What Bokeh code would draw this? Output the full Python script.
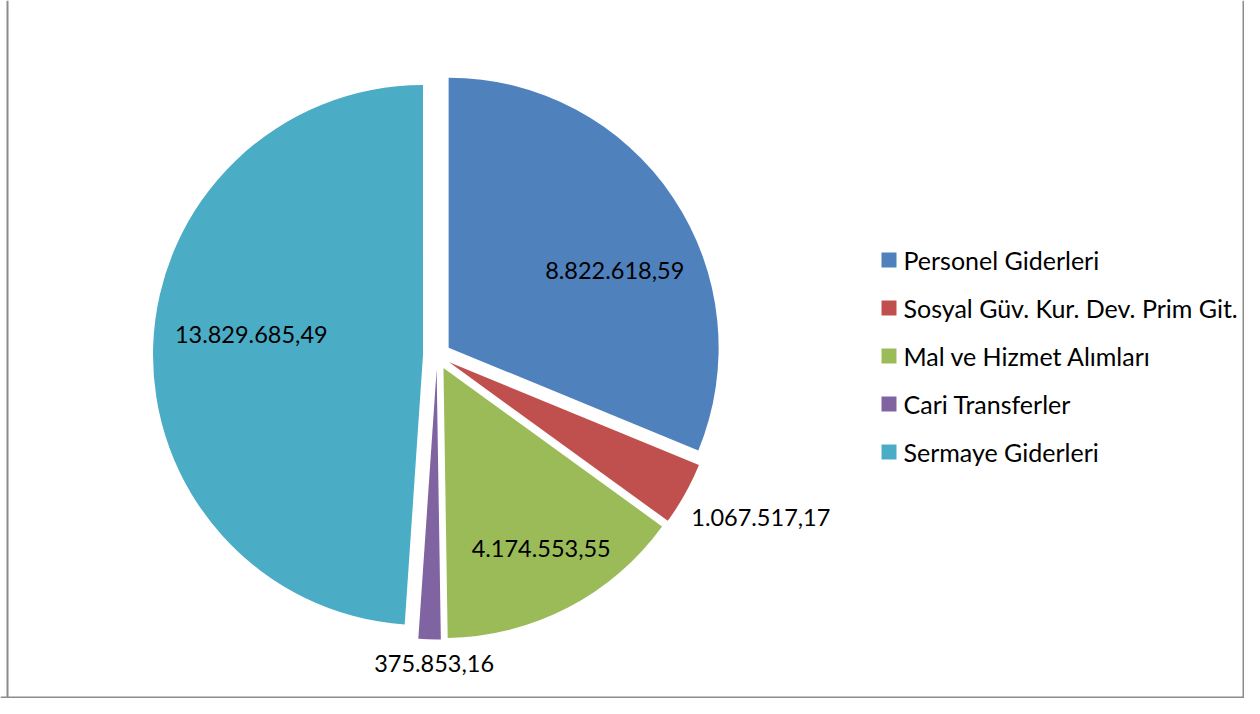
import math
from bokeh.plotting import figure
from bokeh.models import ColumnDataSource, Range1d, Span
from bokeh.core.properties import value
from bokeh.embed import file_html
from bokeh.resources import INLINE

# ---- data ----
categories = ["Personel Giderleri", "Sosyal Güv. Kur. Dev. Prim Git.",
              "Mal ve Hizmet Alımları", "Cari Transferler", "Sermaye Giderleri"]
amounts = [8822618.59, 1067517.17, 4174553.55, 375853.16, 13829685.49]
colors = ["#4F81BD", "#C0504D", "#9BBB59", "#8064A2", "#4BACC6"]

# ---- layout (pixel coordinates; y measured downward, stored negated) ----
W, H = 1244, 698
CX, CY = 436.5, 355.0
R = 270.0
EXPLODE = 14.0
label_dist = [183, 348, 205, 294, 173]
label_ang_shift = [-9.0, 2.7, 1.0, 1.0, -5.0]
FONT = "Lato"

def fmt_tr(v):
    s = f"{v:,.2f}"
    return s.replace(",", "X").replace(".", ",").replace("X", ".")

total = sum(amounts)
starts, ends, xs, ys, lx, ly, texts = [], [], [], [], [], [], []
cum = 0.0
for i, a in enumerate(amounts):
    a0 = cum / total * 360.0
    cum += a
    a1 = cum / total * 360.0
    mid = 90.0 - (a0 + a1) / 2.0  # math angle (deg)
    cx = CX + EXPLODE * math.cos(math.radians(mid))
    cy = -CY + EXPLODE * math.sin(math.radians(mid))
    starts.append(math.radians(90.0 - a1))
    ends.append(math.radians(90.0 - a0))
    xs.append(cx)
    ys.append(cy)
    la = math.radians(mid + label_ang_shift[i])
    lx.append(cx + label_dist[i] * math.cos(la))
    ly.append(cy + label_dist[i] * math.sin(la))
    texts.append(fmt_tr(a))

src = ColumnDataSource(dict(x=xs, y=ys, start=starts, end=ends, color=colors,
                            cat=categories, lx=lx, ly=ly, text=texts))

p = figure(width=W, height=H, output_backend="svg", toolbar_location=None,
           x_range=Range1d(0, W), y_range=Range1d(-H, 0),
           min_border=0, outline_line_color=None)
p.axis.visible = False
p.grid.visible = False
p.background_fill_color = "white"
p.border_fill_color = "white"

p.wedge(x="x", y="y", radius=R, start_angle="start", end_angle="end",
        direction="anticlock", fill_color="color", line_color=None, source=src)

p.text(x="lx", y="ly", text="text", source=src, text_font=value(FONT),
       text_font_size="23.5px", text_color="black", text_align="center",
       text_baseline="middle")

# legend (manual, matching reference layout)
leg_x0, leg_y0, leg_pitch, sq = 888.5, 259.5, 48.0, 15
leg = ColumnDataSource(dict(
    x=[leg_x0] * len(categories),
    y=[-(leg_y0 + leg_pitch * i) for i in range(len(categories))],
    tx=[leg_x0 + 14.5] * len(categories),
    cat=categories, color=colors))
p.scatter(x="x", y="y", marker="square", size=sq, fill_color="color",
          line_color=None, source=leg)
p.text(x="tx", y="y", text="cat", source=leg, text_font=value(FONT),
       text_font_size="25px", text_color="black", text_align="left",
       text_baseline="middle")

# chart frame border (left, right, bottom)
for loc in [7, W - 1]:
    p.add_layout(Span(location=loc, dimension="height", line_color="#8c8c8c", line_width=2))
p.add_layout(Span(location=-(H - 1), dimension="width", line_color="#8c8c8c", line_width=2))

open("out.html", "w").write(file_html(p, INLINE))
